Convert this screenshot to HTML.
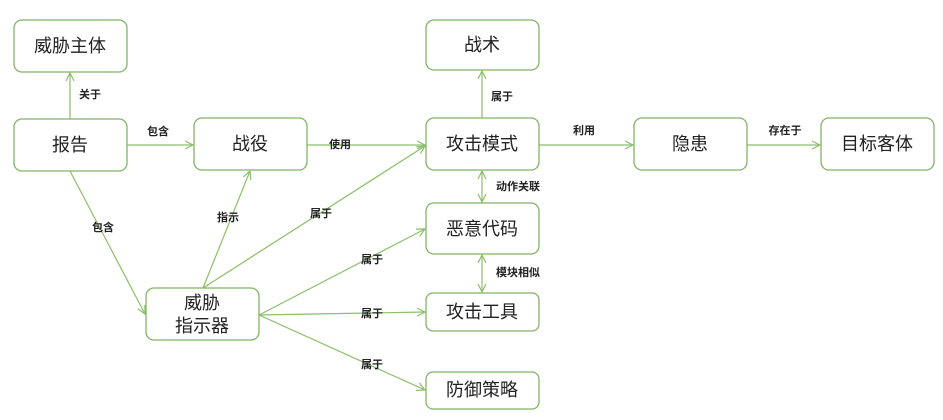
<!DOCTYPE html>
<html><head><meta charset="utf-8"><style>
body{margin:0;background:#fff;width:943px;height:420px;overflow:hidden}
svg{display:block}
.b{fill:#fff;stroke:#82b366;stroke-width:1.3}
.t{font-family:"Liberation Sans","Noto Sans CJK SC",sans-serif;font-size:18px;fill:#222;text-anchor:middle;dominant-baseline:central}
.l{font-family:"Liberation Sans","Noto Sans CJK SC",sans-serif;font-size:11px;font-weight:bold;fill:#222;text-anchor:middle;dominant-baseline:central}
line{stroke:#8cbf6a;stroke-width:1.2;fill:none}
</style></head><body>
<svg width="943" height="420" xmlns="http://www.w3.org/2000/svg">
<defs><marker id="a" markerWidth="10" markerHeight="10" refX="9" refY="5" orient="auto-start-reverse" markerUnits="userSpaceOnUse"><path d="M1,1 L9,5 L1,9" fill="none" stroke="#8cbf6a" stroke-width="1.2"/></marker></defs>
<line x1="70" y1="119" x2="70" y2="73" marker-end="url(#a)"/>
<line x1="127" y1="145" x2="193" y2="145" marker-end="url(#a)"/>
<line x1="307" y1="145" x2="425" y2="145" marker-end="url(#a)"/>
<line x1="482" y1="118" x2="482" y2="71" marker-end="url(#a)"/>
<line x1="539" y1="145" x2="633" y2="145" marker-end="url(#a)"/>
<line x1="747" y1="145" x2="820" y2="145" marker-end="url(#a)"/>
<line x1="482" y1="171" x2="482" y2="202" marker-start="url(#a)" marker-end="url(#a)"/>
<line x1="482" y1="255" x2="482" y2="292" marker-start="url(#a)" marker-end="url(#a)"/>
<line x1="70" y1="171" x2="145" y2="314" marker-end="url(#a)"/>
<line x1="203" y1="288" x2="250" y2="171" marker-end="url(#a)"/>
<line x1="203" y1="288" x2="425" y2="146" marker-end="url(#a)"/>
<line x1="259" y1="315" x2="425" y2="229" marker-end="url(#a)"/>
<line x1="259" y1="315" x2="425" y2="312" marker-end="url(#a)"/>
<line x1="259" y1="315" x2="425" y2="390" marker-end="url(#a)"/>
<rect class="b" x="14" y="20" width="113" height="52" rx="8"/><text class="t" x="70" y="46">威胁主体</text>
<rect class="b" x="14" y="119" width="113" height="52" rx="8"/><text class="t" x="70" y="145">报告</text>
<rect class="b" x="194" y="118" width="113" height="52" rx="8"/><text class="t" x="250" y="144">战役</text>
<rect class="b" x="146" y="288" width="113" height="52" rx="8"/><text class="t" x="202" y="303">威胁</text><text class="t" x="202" y="326">指示器</text>
<rect class="b" x="426" y="20" width="113" height="50" rx="8"/><text class="t" x="482" y="45">战术</text>
<rect class="b" x="426" y="118" width="113" height="52" rx="8"/><text class="t" x="482" y="144">攻击模式</text>
<rect class="b" x="426" y="203" width="113" height="51" rx="8"/><text class="t" x="482" y="229">恶意代码</text>
<rect class="b" x="426" y="293" width="113" height="38" rx="7"/><text class="t" x="482" y="312">攻击工具</text>
<rect class="b" x="426" y="372" width="113" height="37" rx="7"/><text class="t" x="482" y="390">防御策略</text>
<rect class="b" x="634" y="118" width="113" height="52" rx="8"/><text class="t" x="690" y="144">隐患</text>
<rect class="b" x="821" y="118" width="113" height="52" rx="8"/><text class="t" x="877" y="144">目标客体</text>
<text class="l" x="90" y="95">关于</text>
<text class="l" x="158" y="132">包含</text>
<text class="l" x="340" y="145">使用</text>
<text class="l" x="502" y="97">属于</text>
<text class="l" x="584" y="131">利用</text>
<text class="l" x="785" y="131">存在于</text>
<text class="l" x="518" y="187">动作关联</text>
<text class="l" x="518" y="273">模块相似</text>
<text class="l" x="103" y="228">包含</text>
<text class="l" x="228" y="218">指示</text>
<text class="l" x="321" y="214">属于</text>
<text class="l" x="372" y="260">属于</text>
<text class="l" x="372" y="314">属于</text>
<text class="l" x="372" y="365">属于</text>
</svg>
</body></html>
